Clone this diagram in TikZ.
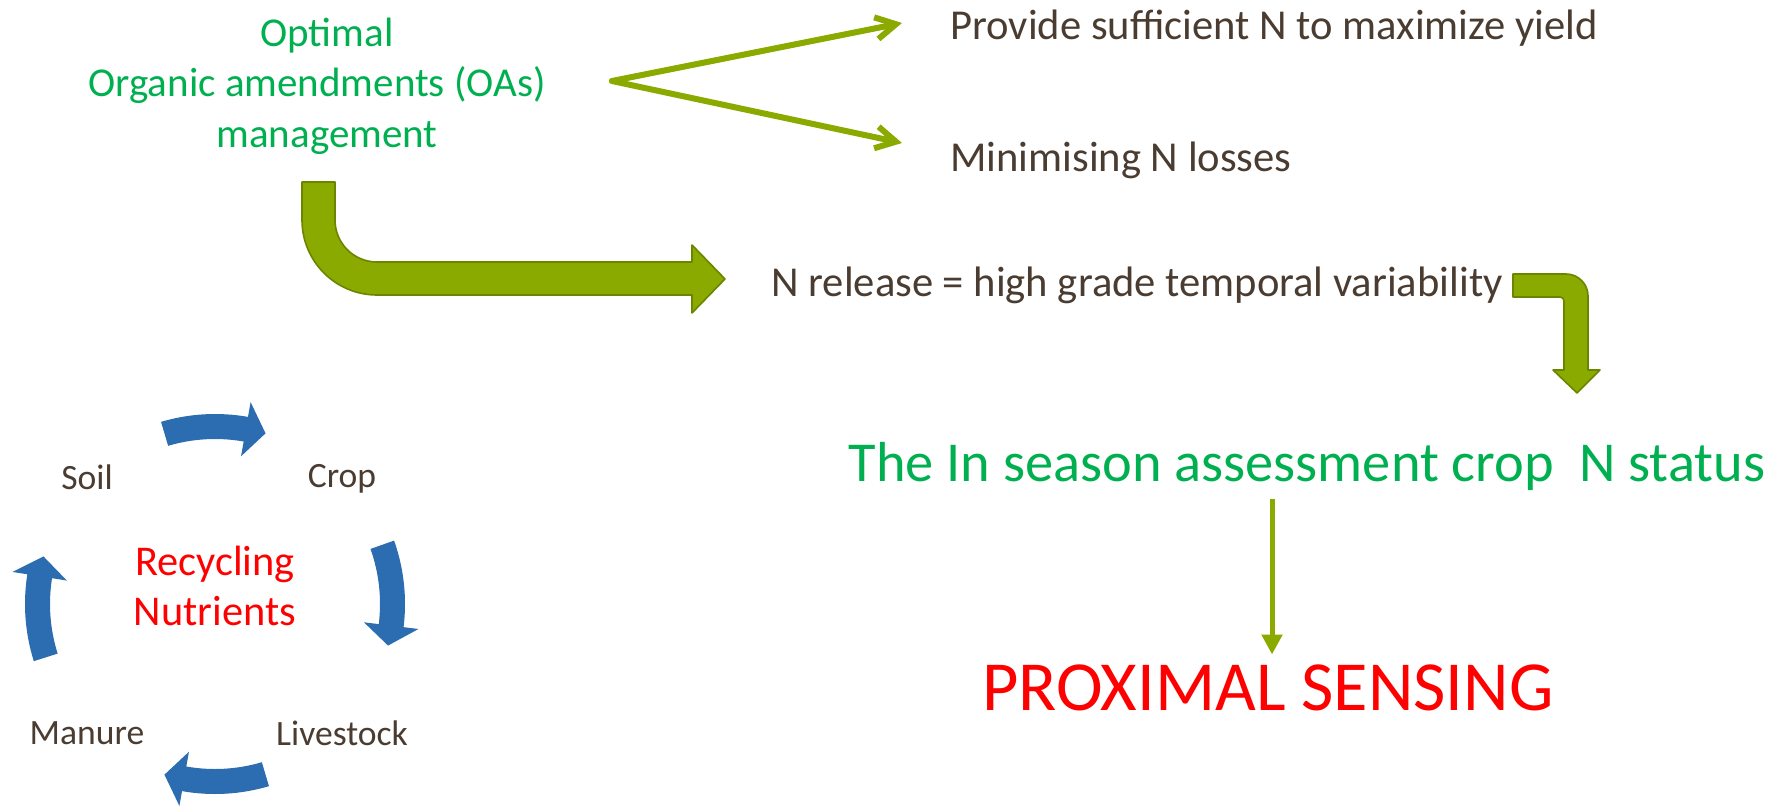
\documentclass[tikz,border=0pt]{standalone}
\usepackage{fontspec}
\setmainfont{Carlito}
\usetikzlibrary{arrows.meta}

\definecolor{oagreen}{RGB}{138,170,0}
\definecolor{oaedge}{RGB}{107,133,0}
\definecolor{txtbrown}{RGB}{74,60,48}
\definecolor{hlgreen}{RGB}{0,176,80}
\definecolor{cycblue}{RGB}{44,108,176}

\tikzset{
  txt/.style={inner sep=0pt, text=txtbrown, font=\fontsize{21.3}{26}\selectfont},
  head/.style={inner sep=0pt, text=hlgreen, align=center, font=\fontsize{20.5}{25.3}\selectfont},
  cyc/.style={inner sep=0pt, text=txtbrown, font=\fontsize{17.8}{21}\selectfont},
  fork/.style={draw=oagreen, line width=3pt, line cap=round, -{Straight Barb[length=10pt,width=11pt]}},
  thin/.style={draw=oagreen, line width=2.5pt, -{Triangle[length=10pt,width=10pt]}},
  bent/.style={fill=oagreen, draw=oaedge, line width=0.8pt, line join=round},
  cycarrow/.style={fill=cycblue}
}

\begin{document}
\begin{tikzpicture}[x=0.5pt, y=-0.5pt]
  \useasboundingbox (0,0) rectangle (1780,808);

  \node[head] (oam) at (327,86) {Optimal\\Organic amendments (OAs)\hspace*{10pt}\mbox{}\\management};
  \node[txt, anchor=west] (yield) at (950,28) {Provide sufficient N to maximize yield};
  \node[txt, anchor=west] (losses) at (950,160) {Minimising N losses};
  \node[txt, anchor=west] (release) at (771,285) {N release = high grade temporal variability};
  \node[inner sep=0pt, text=hlgreen, font=\fontsize{28.2}{34}\selectfont] (assess) at (1307,466) {The In season assessment crop\ \ N status};
  \node[inner sep=0pt, text=red, font=\fontsize{35.2}{40}\selectfont] (prox) at (1268,688) {PROXIMAL SENSING};

  \coordinate (split) at (612,81);
  \coordinate (tipa) at (902,23);
  \coordinate (tipb) at (902,143);
  \draw[fork] (split) -- (tipa);
  \draw[fork] (split) -- (tipb);

  \draw[thin, shorten <=4pt, shorten >=5pt] ([xshift=2pt]assess.south -| prox.north) -- ([xshift=2pt]prox.north);

  \draw[bent] (302,182) -- (335,182) -- (335,220) arc[start angle=180, end angle=90, radius=42]
    -- (692,262) -- (692,245) -- (725,279) -- (692,313) -- (692,295)
    -- (377,295) arc[start angle=90, end angle=180, radius=75] -- cycle;

  \draw[bent] (1513,274) -- (1566,274) arc[start angle=-90, end angle=0, radius=22]
    -- (1588,370) -- (1600,370) -- (1577,393) -- (1553,370) -- (1564,370)
    -- (1564,301) arc[start angle=0, end angle=-90, radius=4] -- (1513,297) -- cycle;

  \node[cyc] (soil) at (87,477) {Soil};
  \node[cyc] (crop) at (342,479) {Crop};
  \node[cyc] (livestock) at (342,733) {Livestock};
  \node[cyc] (manure) at (87,733) {Manure};
  \node[inner sep=0pt, text=red, align=center, font=\fontsize{21.2}{25}\selectfont] (recycle) at (215,586) {Recycling\\Nutrients};

  \begin{scope}[shift={(215,604)}, yscale=-1]
    \foreach \c in {90,3,270,181}
      \fill[cycarrow] ({\c+16.5}:190) arc[start angle=\c+16.5, end angle=\c-10, radius=190]
        -- ({\c-10}:205) -- ({\c-16.5}:178) -- ({\c-10}:150) -- ({\c-10}:165)
        arc[start angle=\c-10, end angle=\c+16.5, radius=165] -- cycle;
  \end{scope}
\end{tikzpicture}
\end{document}
